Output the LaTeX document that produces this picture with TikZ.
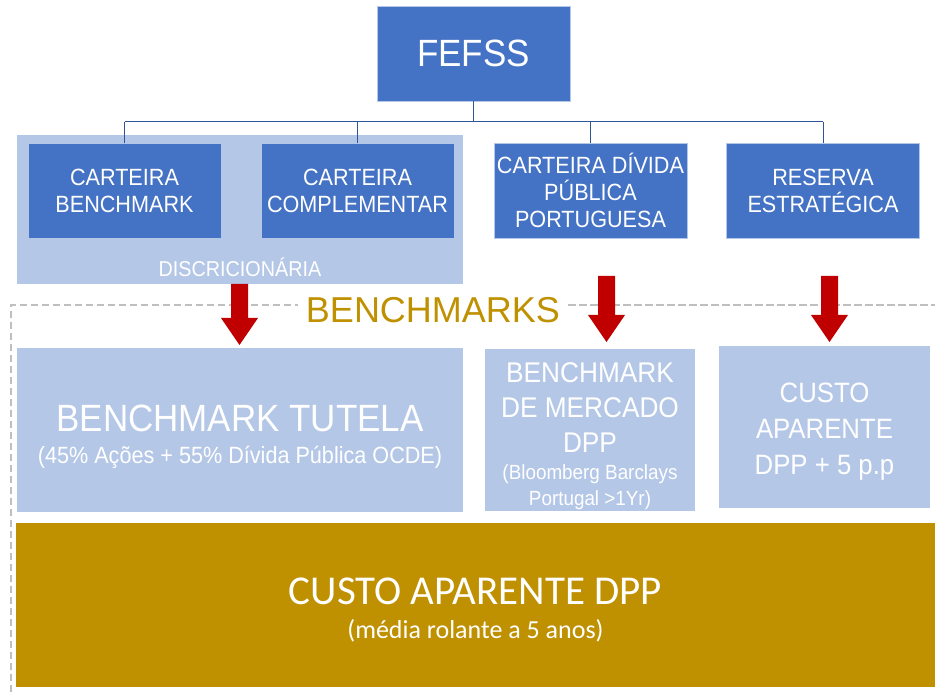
\documentclass[tikz,border=0pt]{standalone}
\usepackage{fontspec}
\setmainfont{Liberation Sans}[FakeStretch=0.92]
\newfontfamily\widesans{Liberation Sans}
\newfontfamily\goldsans{Carlito}
\usetikzlibrary{positioning}

\definecolor{boxblue}{RGB}{68,114,196}
\definecolor{paleblue}{RGB}{180,199,231}
\definecolor{goldfill}{RGB}{191,144,0}
\definecolor{arrowred}{RGB}{192,0,0}
\definecolor{dashgray}{RGB}{191,191,191}
\definecolor{linkblue}{RGB}{47,85,151}

\newcommand{\fsz}[2]{\fontsize{#1}{#2}\selectfont}
% block arrow: centre x, top y, tip y
\newcommand{\redarrow}[3]{%
  \fill[arrowred] (#1-8.5,#2) -- (#1+8.5,#2) -- (#1+8.5,#3-27) -- (#1+18.5,#3-27)
    -- (#1,#3) -- (#1-18.5,#3-27) -- (#1-8.5,#3-27) -- cycle;}

\tikzset{
  bluebox/.style={fill=boxblue, draw=paleblue, line width=0.8pt, text=white,
    align=center, inner sep=0pt, minimum width=193pt, minimum height=95pt},
  palebox/.style={fill=paleblue, inner sep=0pt},
  goldbox/.style={fill=goldfill, inner sep=0pt},
  boxtext/.style={text=white, align=center, inner sep=0pt},
  orgline/.style={draw=linkblue, line width=1pt},
  dashframe/.style={draw=dashgray, line width=2.2pt, dash pattern=on 7.3pt off 3.7pt},
}

\begin{document}
\begin{tikzpicture}[x=1pt,y=-1pt]
\useasboundingbox (0,0) rectangle (935,692);

% top of the tree
\node[bluebox, font=\fsz{38}{42}] (fefss) at (473.5,53.5) {FEFSS};
\node[palebox, minimum width=446pt, minimum height=149pt] (disc) at (240,209.5) {};
\node[bluebox, font=\fsz{23.5}{27}] (cb) at (124.5,190.5) {CARTEIRA\\BENCHMARK};
\node[bluebox, font=\fsz{23.5}{27}] (cc) at (357.5,190.5) {CARTEIRA\\COMPLEMENTAR};
\node[bluebox, font=\fsz{23.5}{27}] (cdp) at (590.5,190.5) {CARTEIRA DÍVIDA\\PÚBLICA\\PORTUGUESA};
\node[bluebox, font=\fsz{23.5}{27}] (res) at (823,190.5) {RESERVA\\ESTRATÉGICA};
\node[boxtext, font=\fsz{21.5}{24}] (discl) at (240,267) {DISCRICIONÁRIA};

\coordinate (bus) at (473.5,122);
\draw[orgline] (fefss.south) -- (bus);
\draw[orgline] (cb.north |- bus) -- (res.north |- bus);
\foreach \b in {cb,cc,cdp,res}
  \draw[orgline] (bus -| \b.north) -- (\b.north);

% benchmarks frame
\node[text=goldfill, font=\widesans\fsz{36}{40}, inner sep=8pt] (bmk) at (433,310) {BENCHMARKS};
\coordinate (fcorner) at (11,305);
\coordinate (fright) at (935,305);
\draw[dashframe] (fcorner |- 0,692) -- (fcorner) -- (fcorner -| bmk.west);
\draw[dashframe] (fright -| bmk.east) -- (fright);

\redarrow{239.5}{284}{345}
\redarrow{606.5}{276}{342}
\redarrow{829.5}{276}{342}

% benchmark boxes
\node[palebox, minimum width=446pt, minimum height=164pt] (tut) at (240,430) {};
\node[boxtext, font=\fsz{38}{32}] (tuttext) at ([yshift=-7pt]tut.center)
  {BENCHMARK TUTELA\\{\fsz{23.5}{26}(45\% Ações + 55\% Dívida Pública OCDE)}};
\node[palebox, minimum width=210pt, minimum height=162pt] (merc) at (590,430) {};
\node[boxtext, font=\fsz{28.5}{35}] (merctext) at ([yshift=-6.5pt]merc.center)
  {BENCHMARK\\DE MERCADO\\DPP\\[-8pt]{\fsz{20.5}{26}(Bloomberg Barclays}\\[-9pt]{\fsz{20.5}{26}Portugal >1Yr)}};
\node[palebox, minimum width=211pt, minimum height=162pt] (cst) at (824.5,427) {};
\node[boxtext, font=\fsz{28}{36}] (csttext) at ([yshift=-5pt]cst.center)
  {CUSTO\\APARENTE\\DPP + 5 p.p};

% bottom bar
\node[goldbox, minimum width=919pt, minimum height=164pt] (dpp) at (475.5,605) {};
\node[boxtext, font=\goldsans\fsz{41}{34}] (dpptext) at ([yshift=-5pt]dpp.center)
  {CUSTO APARENTE DPP\\{\fsz{26}{30}(média rolante a 5 anos)}};
\end{tikzpicture}
\end{document}
